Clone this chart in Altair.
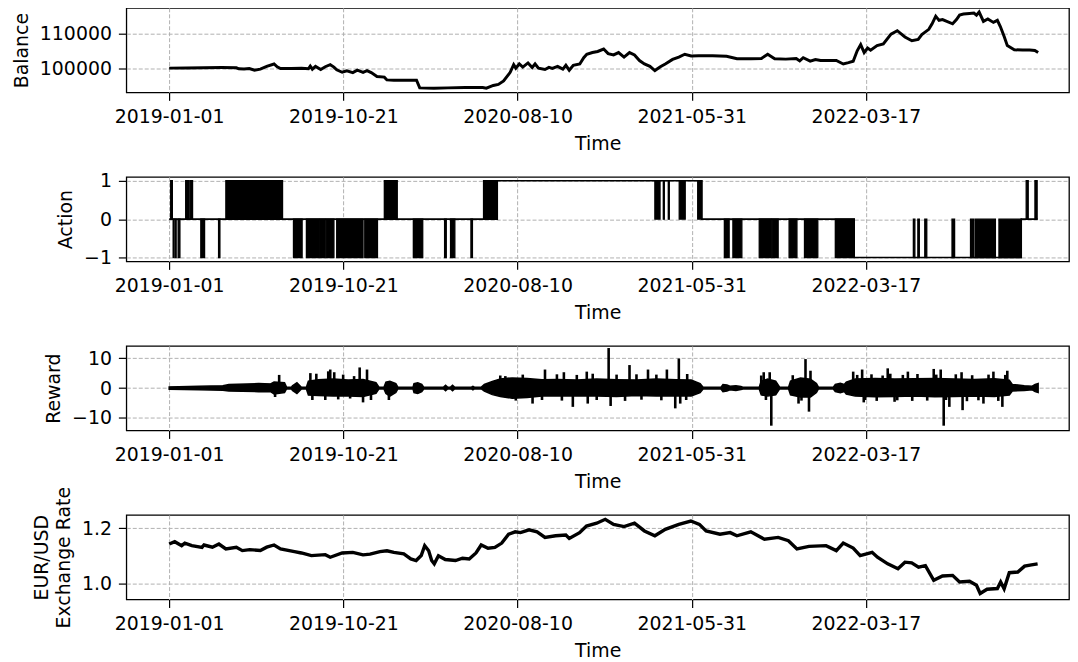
import altair as alt
import pandas as pd

# ---- x axis (step index, labelled with dates every 5000 steps) ----
tick_values = [0, 5000, 10000, 15000, 20000]
tick_labels = ["2019-01-01", "2019-10-21", "2020-08-10", "2021-05-31", "2022-03-17"]

# ---- Balance ----
balance_t = [0, 500, 1000, 1500, 1929, 2000, 2150, 2300, 2450, 2617, 2800, 3011, 3100, 3196,
             3500, 3800, 3996, 4050, 4110, 4200, 4350, 4481, 4623, 4729, 4809, 4966, 5100, 5271,
             5400, 5565, 5679, 5800, 5965, 6176, 6250, 6450, 6800, 7100, 7192, 7600, 8000, 8500,
             9000, 9104, 9304, 9450, 9600, 9789, 9889, 9950, 10050, 10150, 10300, 10420, 10503,
             10600, 10788, 10900, 11000, 11150, 11300, 11387, 11484, 11600, 11787, 11900, 11987,
             12150, 12300, 12472, 12600, 12757, 12900, 13057, 13214, 13357, 13500, 13642, 13800,
             13942, 14100, 14241, 14450, 14630, 14800, 14984, 15200, 15600, 16000, 16300, 16700,
             17000, 17181, 17381, 17700, 18000, 18100, 18200, 18400, 18551, 18700, 19150, 19350,
             19500, 19635, 19750, 19850, 19950, 20050, 20135, 20320, 20500, 20720, 20900, 21120,
             21319, 21500, 21605, 21805, 21900, 22004, 22100, 22200, 22489, 22600, 22689, 22800,
             22975, 23100, 23174, 23250, 23374, 23500, 23660, 23774, 23859, 23974, 24059, 24259,
             24500, 24700, 24850, 24944]
balance_v = [100000, 100050, 100100, 100150, 100100, 99800, 99750, 99900, 99400, 99700, 100500,
             101200, 100400, 99900, 99900, 99950, 99800, 100600, 99700, 100500, 99600, 100400,
             101000, 100300, 99500, 98800, 99200, 98700, 99400, 98800, 99300, 98700, 97600, 97400,
             96600, 96500, 96500, 96500, 94300, 94200, 94300, 94400, 94400, 94200, 95000, 95300,
             96300, 98800, 101000, 100000, 101200, 100300, 101500, 100200, 101200, 100000, 99600,
             100200, 99900, 100500, 99700, 100800, 99400, 100800, 101200, 103000, 104000, 104500,
             104800, 105500, 104200, 103800, 104500, 103200, 104500, 103800, 102200, 101200,
             100500, 99300, 100400, 101200, 102500, 103200, 104000, 103500, 103600, 103600,
             103400, 102700, 102700, 102800, 104000, 102700, 102600, 102800, 102100, 103000,
             102000, 102500, 102200, 102200, 101200, 101600, 102000, 105000, 106800, 104500,
             105800, 105200, 106500, 107000, 109800, 110800, 109000, 107900, 108300, 109700,
             111200, 112800, 115000, 113800, 114000, 112800, 114000, 115300, 115600, 115800,
             115900, 115300, 116200, 113500, 114200, 113200, 113800, 112000, 109000, 106500,
             105300, 105200, 105200, 105100, 104500]

# ---- Action: held level, and bursts of switching (from 0 to value) ----
level_t = [0, 9418, 9418, 15289, 15289, 19664, 19664, 24459, 24459, 24929]
level_v = [0, 0, 1, 1, 0, 0, -1, -1, 0, 0]
burst_start = [43, 474, 599, 1627, 1712, 6176, 9024, 13942, 14184, 14327, 14641, 15172, 24601,
               24852,
               114, 171, 257, 908, 1418, 3568, 3939, 4340, 4510, 4809, 5614, 7009, 7906, 8077,
               8662, 15937, 16182, 16938, 17312, 17795, 18237, 19122, 21362, 21491, 21690,
               22472, 23003, 23132, 23819]
burst_end = [91, 571, 671, 1712, 3254, 6547, 9418, 14090, 14213, 14356, 14813, 15289, 24659,
             24915,
             140, 200, 308, 1016, 1456, 3816, 4310, 4480, 4729, 5565, 5979, 7278, 7954, 8200,
             8705, 16074, 16439, 17284, 17481, 18020, 18619, 19664, 21405, 21533, 21747,
             22546, 23089, 23717, 24459]
burst_val = [1] * 14 + [-1] * 29

# ---- Reward: envelope of the oscillation, plus isolated spikes ----
reward_t = [0, 856, 1541, 1712, 2569, 2911, 3011, 3311, 3368, 3511, 3539, 3667, 3796, 3939,
            3996, 4281, 4709, 5137, 5565, 5936, 6022, 6165, 6222, 6336, 6507, 6564, 7000, 7028,
            7135, 7250, 7306, 7877, 7934, 7991, 8077, 8134, 8191, 8676, 8719, 8762, 8962, 9047,
            9276, 9504, 9846, 10274, 10702, 11131, 11701, 12272, 12843, 13414, 13985, 14556,
            14984, 15241, 15326, 15840, 15897, 16011, 16097, 16268, 16411, 16468, 16938, 16995,
            17181, 17410, 17524, 17780, 17837, 18123, 18409, 18580, 18637, 19065, 19122, 19265,
            19379, 19436, 19692, 20263, 20834, 21405, 21976, 22546, 23117, 23688, 24116, 24202,
            24545, 24773, 24858, 24944]
reward_hi = [0.4, 0.6, 0.8, 1.2, 1.5, 1.4, 2.0, 1.8, 0.3, 0.3, 0.8, 1.8, 0.3, 0.3,
             2.3, 2.8, 3.0, 2.7, 2.9, 1.8, 0.3, 0.3, 2.0, 2.3, 1.5, 0.3, 0.3, 1.5,
             1.8, 1.2, 0.3, 0.3, 0.9, 0.3, 0.3, 0.9, 0.3, 0.3, 0.6, 0.3, 0.3, 1.2,
             2.2, 3.0, 3.4, 3.2, 2.8, 2.9, 2.7, 3.0, 2.8, 2.7, 3.0, 2.8,
             2.7, 1.5, 0.3, 0.3, 1.2, 1.0, 0.6, 0.8, 0.5, 0.3, 0.3, 2.3,
             3.0, 2.3, 0.3, 0.3, 2.3, 3.4, 3.0, 1.5, 0.3, 0.3, 1.2, 1.6,
             1.2, 2.0, 3.0, 3.2, 3.0, 3.1, 3.2, 3.0, 2.9, 3.1, 2.6, 1.2,
             0.8, 0.6, 1.2, 1.5]
reward_lo = [-0.4, -0.6, -0.7, -1.0, -1.2, -1.2, -2.0, -1.5, -0.3, -0.3, -0.8, -1.8, -0.3, -0.3,
             -2.3, -2.5, -2.7, -2.7, -2.8, -1.8, -0.3, -0.3, -1.8, -2.7, -1.5, -0.3, -0.3, -1.5,
             -1.8, -1.2, -0.3, -0.3, -0.9, -0.3, -0.3, -0.9, -0.3, -0.3, -0.6, -0.3, -0.3, -1.0,
             -2.2, -2.8, -3.4, -3.2, -2.7, -2.7, -2.7, -2.7, -2.8, -2.5, -2.7, -2.7,
             -2.7, -1.5, -0.3, -0.3, -1.2, -1.0, -0.6, -0.8, -0.5, -0.3, -0.3, -2.3,
             -2.7, -2.3, -0.3, -0.3, -2.3, -3.0, -3.0, -1.5, -0.3, -0.3, -1.2, -1.6,
             -1.2, -2.0, -2.7, -2.9, -2.8, -2.7, -2.9, -2.8, -2.7, -2.8, -2.3, -1.0,
             -0.8, -0.6, -1.2, -1.5]
spike_t = [3040, 3157, 4053, 4110, 4566, 4623, 5468, 5565, 5679, 5793, 6307, 9504, 10431, 10788,
           11330, 11587, 11987, 12015, 12615, 12672, 13214, 13745, 14287, 14527, 14630, 14670,
           14870, 17067, 17238, 17284, 18066, 18266, 18366, 18409, 19635, 19892, 19938, 20626,
           20823, 21205, 21947, 22147, 22233, 22395, 22746, 22775, 23374, 23660, 23917, 24059,
           # smaller excursions that give the band its ragged edge
           4224, 4481, 4738, 4852, 4994, 5194, 5308, 9650, 9950, 10150, 10702, 11130, 11273,
           11701, 12158, 12272, 12843, 13086, 13414, 13557, 13985, 14128, 14841, 16995, 17130,
           17900, 18150, 19750, 19980, 20160, 20310, 20480, 20700, 20900, 21060, 21330, 21480,
           21760, 22020, 22300, 22580, 22900, 23050, 23230, 23520, 23800, 24000]
spike_v = [-3.0, 4.4, 5.0, -4.0, 5.6, 6.2, 6.9, -4.8, 6.2, -4.0, -4.0, 4.2, -5.2, 6.2,
           5.3, -6.3, 5.5, -5.2, 13.4, -6.0, 7.7, 6.2, 6.2, -6.8, 9.9, -5.2,
           4.7, 5.3, 5.3, -12.6, -5.2, 9.7, -7.9, 5.8, 5.5, 6.2, -4.8, 6.6,
           -4.6, 5.5, 6.4, 6.2, -12.6, -6.3, 5.3, -7.4, -5.2, 5.5, -6.3, 5.8,
           4.8, -4.0, 5.3, -3.8, 4.5, -3.5, 4.0, 4.0, -4.2, 4.5, -4.0, 4.6, -4.2,
           4.4, 4.8, -4.0, 4.5, -4.3, 4.6, -3.9, 4.5, -4.1, -4.0, 4.2, -4.0,
           4.3, -4.2, 4.4, -4.0, 4.6, -4.3, 4.2, 4.8, -4.1, 4.4, -4.3, 4.7,
           -4.2, 4.5, -4.0, 4.6, -4.4, 4.3, -4.1, 4.5, -4.3, 4.4]

# ---- EUR/USD exchange rate ----
rate_t = [0, 160, 357, 450, 651, 942, 1000, 1241, 1427, 1627, 1929, 2100, 2312, 2617, 2800,
          3011, 3196, 3596, 3796, 4081, 4481, 4623, 4966, 5271, 5565, 5765, 6050, 6250, 6450,
          6735, 6935, 7089, 7235, 7335, 7449, 7535, 7609, 7729, 7926, 8220, 8419, 8613, 8807,
          8956, 9153, 9350, 9547, 9744, 9932, 10086, 10331, 10560, 10788, 11093, 11387, 11484,
          11781, 11978, 12272, 12517, 12757, 13057, 13357, 13642, 13942, 14241, 14630, 14975,
          15221, 15412, 15811, 16105, 16296, 16696, 17087, 17481, 17775, 18020, 18366, 18856,
          19150, 19350, 19635, 19835, 20178, 20332, 20626, 20920, 21120, 21314, 21511, 21707,
          21947, 22198, 22489, 22689, 22975, 23174, 23280, 23477, 23774, 23868, 23968, 24116,
          24359, 24556, 24752, 24929]
rate_v = [1.1425, 1.151, 1.1365, 1.146, 1.137, 1.1305, 1.139, 1.131, 1.1425, 1.1245, 1.1305,
          1.1186, 1.122, 1.119, 1.131, 1.139, 1.125, 1.115, 1.110, 1.1006, 1.104, 1.0946, 1.110,
          1.112, 1.103, 1.106, 1.115, 1.118, 1.112, 1.1066, 1.0886, 1.0826, 1.1006, 1.1365,
          1.118, 1.0826, 1.0707, 1.100, 1.0862, 1.0826, 1.091, 1.088, 1.110, 1.139, 1.127,
          1.130, 1.146, 1.178, 1.1868, 1.184, 1.194, 1.187, 1.1665, 1.1725, 1.175, 1.163,
          1.184, 1.208, 1.218, 1.2323, 1.214, 1.206, 1.218, 1.190, 1.1725, 1.196, 1.214, 1.226,
          1.214, 1.19, 1.178, 1.184, 1.1725, 1.187, 1.160, 1.1665, 1.1545, 1.1246, 1.134,
          1.1365, 1.1186, 1.146, 1.128, 1.1006, 1.1126, 1.0946, 1.0707, 1.0527, 1.0766, 1.074,
          1.0587, 1.064, 1.0108, 1.0263, 1.0287, 1.0048, 1.0072, 0.9928, 0.9629, 0.9784,
          0.9808, 1.0048, 0.98, 1.0383, 1.0407, 1.0623, 1.067, 1.0707]

# ---------------- tables ----------------
balance_df = pd.DataFrame({"t": balance_t, "v": balance_v})
level_df = pd.DataFrame({"t": level_t, "v": level_v, "i": range(len(level_t))})
burst_df = pd.DataFrame({"t": burst_start, "t2": burst_end, "v": burst_val})
reward_df = pd.DataFrame({"t": reward_t, "hi": reward_hi, "lo": reward_lo})
spike_df = pd.DataFrame({"t": spike_t, "v": spike_v})
rate_df = pd.DataFrame({"t": rate_t, "v": rate_v})

label_expr = "[" + ",".join("'%s'" % s for s in tick_labels) + "][round(datum.value / 5000)]"
FONT = "DejaVu Sans"
FS = 19
W, H = 948, 85

xscale = alt.Scale(domain=[-1230, 25830], nice=False, zero=False)
xaxis = alt.Axis(values=tick_values, labelExpr=label_expr, title="Time", labelFlush=False,
                 labelOverlap=False)


def X(field="t"):
    return alt.X(f"{field}:Q", scale=xscale, axis=xaxis)


def yaxis(title, values, fmt):
    return alt.Axis(title=title, values=values, format=fmt)


# Balance
p1 = alt.Chart(balance_df).mark_line(color="black", strokeWidth=3.0).encode(
    x=X(),
    y=alt.Y("v:Q", scale=alt.Scale(domain=[93000, 117400], nice=False, zero=False),
            axis=yaxis("Balance", [100000, 110000], "d")),
).properties(width=W, height=H)

# Action
yact = alt.Scale(domain=[-1.1, 1.1], nice=False)
a_level = alt.Chart(level_df).mark_line(color="black", strokeWidth=1.6).encode(
    x=X(), y=alt.Y("v:Q", scale=yact, axis=yaxis("Action", [-1, 0, 1], "d")),
    order=alt.Order("i:Q"),
)
a_burst = alt.Chart(burst_df).mark_rect(color="black", stroke="black", strokeWidth=1.3).encode(
    x=X(), x2="t2:Q",
    y=alt.Y("v:Q", scale=yact, axis=yaxis("Action", [-1, 0, 1], "d")),
    y2=alt.datum(0),
)
p2 = alt.layer(a_level, a_burst).properties(width=W, height=H)

# Reward
yrew = alt.Scale(domain=[-14.2, 14.1], nice=False)
r_band = alt.Chart(reward_df).mark_area(color="black", stroke="black", strokeWidth=1.5).encode(
    x=X(), y=alt.Y("lo:Q", scale=yrew, axis=yaxis("Reward", [-10, 0, 10], "d")), y2="hi:Q",
)
r_spike = alt.Chart(spike_df).mark_rule(color="black", strokeWidth=2.6).encode(
    x=X(), y=alt.Y("v:Q", scale=yrew, axis=yaxis("Reward", [-10, 0, 10], "d")),
    y2=alt.datum(0),
)
p3 = alt.layer(r_band, r_spike).properties(width=W, height=H)

# Exchange rate
p4 = alt.Chart(rate_df).mark_line(color="black", strokeWidth=3.4).encode(
    x=X(),
    y=alt.Y("v:Q", scale=alt.Scale(domain=[0.941, 1.248], nice=False, zero=False),
            axis=yaxis(["EUR/USD", "Exchange Rate"], [1.0, 1.2], ".1f")),
).properties(width=W, height=H)

chart = alt.vconcat(p1, p2, p3, p4, spacing=85, bounds="flush").properties(
    padding={"left": 3, "top": -5, "right": 0, "bottom": 0}
).configure_view(
    stroke="black", strokeWidth=1.3
).configure_axis(
    labelFont=FONT, titleFont=FONT, labelFontSize=FS, titleFontSize=FS,
    titleFontWeight="normal", labelColor="black", titleColor="black",
    tickColor="black", tickSize=8, tickWidth=1.2, domain=False,
    grid=True, gridColor="#b0b0b0", gridDash=[4, 2], gridWidth=1,
    labelPadding=7, titlePadding=8, titleLineHeight=22,
).configure_axisY(
    titlePadding=8,
)

chart.save("out.html", embed_options={"renderer": "svg", "actions": False})
